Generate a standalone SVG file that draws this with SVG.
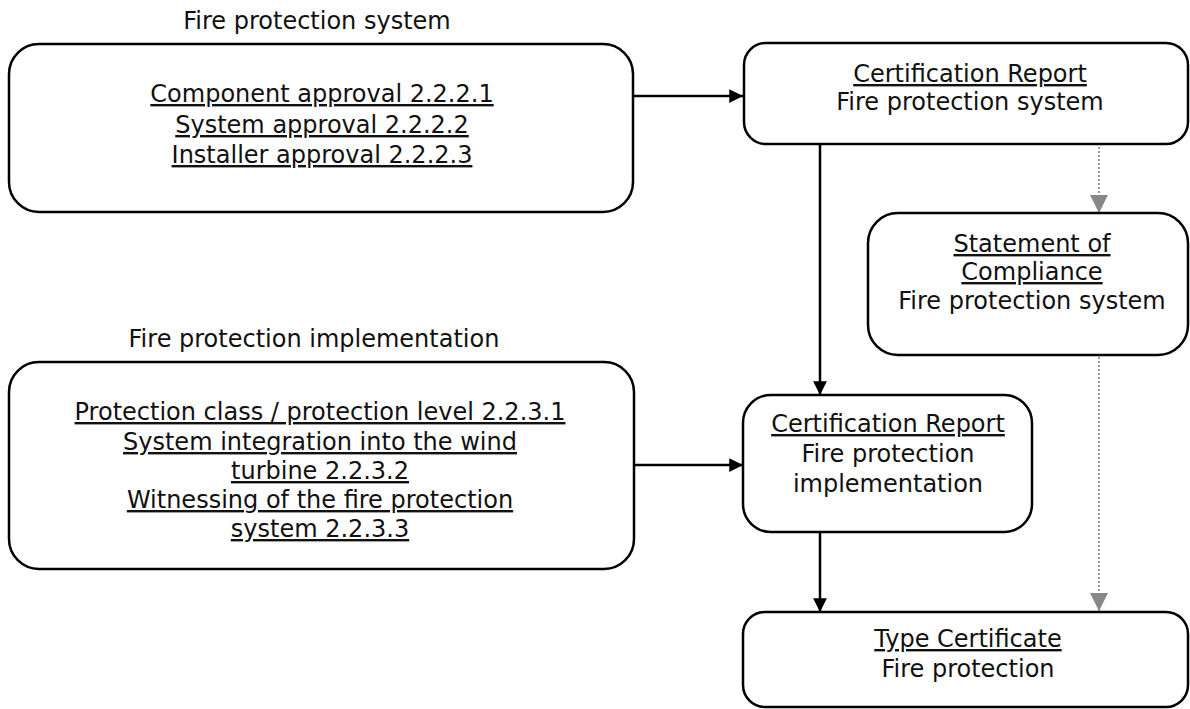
<svg xmlns="http://www.w3.org/2000/svg" width="1190" height="709" viewBox="0 0 1190 709">
<style>
.box{fill:#fff;stroke:#000;stroke-width:2.5}
text{font-family:"DejaVu Sans",Verdana,sans-serif;font-size:24px;fill:#111;text-anchor:middle}
.u{text-decoration:underline}
.c{stroke:#000;stroke-width:2.5;fill:none}
.d{stroke:#999;stroke-width:2;stroke-dasharray:2 2;fill:none}
</style>
<defs>
<marker id="a" viewBox="0 0 10 10" refX="10" refY="5" markerWidth="6" markerHeight="5.5" markerUnits="strokeWidth" orient="auto"><path d="M0,0L10,5L0,10z" fill="#000"/></marker>
<marker id="g" viewBox="0 0 10 10" refX="10" refY="5" markerWidth="12" markerHeight="9" markerUnits="strokeWidth" orient="auto"><path d="M0,0L10,5L0,10z" fill="#888"/></marker>
</defs>
<rect width="1190" height="709" fill="#fff"/>
<g id="connectors">
<path class="c" d="M633,96H743" marker-end="url(#a)"/>
<path class="c" d="M820,145V395" marker-end="url(#a)"/>
<path class="c" d="M634,465H743" marker-end="url(#a)"/>
<path class="c" d="M820,532V612" marker-end="url(#a)"/>
<path class="d" d="M1099,147V213" marker-end="url(#g)"/>
<path class="d" d="M1099,357V611" marker-end="url(#g)"/>
</g>
<g id="title1"><text x="317" y="29">Fire protection system</text></g>
<g id="n1">
<rect class="box" x="9" y="44" width="624" height="168" rx="30"/>
<text class="u" x="322" y="102">Component approval 2.2.2.1</text>
<text class="u" x="322" y="133">System approval 2.2.2.2</text>
<text class="u" x="322" y="163">Installer approval 2.2.2.3</text>
</g>
<g id="n2">
<rect class="box" x="744" y="43" width="444" height="101" rx="22"/>
<text class="u" x="970" y="82">Certification Report</text>
<text x="970" y="110">Fire protection system</text>
</g>
<g id="n3">
<rect class="box" x="868" y="213" width="320" height="142" rx="30"/>
<text class="u" x="1032" y="252">Statement of</text>
<text class="u" x="1032" y="280">Compliance</text>
<text x="1032" y="309">Fire protection system</text>
</g>
<g id="title2"><text x="314" y="347">Fire protection implementation</text></g>
<g id="n4">
<rect class="box" x="9" y="362" width="625" height="207" rx="30"/>
<text class="u" x="320" y="420">Protection class / protection level 2.2.3.1</text>
<text class="u" x="320" y="450">System integration into the wind</text>
<text class="u" x="320" y="479">turbine 2.2.3.2</text>
<text class="u" x="320" y="508">Witnessing of the fire protection</text>
<text class="u" x="320" y="537">system 2.2.3.3</text>
</g>
<g id="n5">
<rect class="box" x="743" y="395" width="289" height="137" rx="28"/>
<text class="u" x="888" y="432">Certification Report</text>
<text x="888" y="462">Fire protection</text>
<text x="888" y="492">implementation</text>
</g>
<g id="n6">
<rect class="box" x="743" y="612" width="445" height="95" rx="22"/>
<text class="u" x="968" y="647">Type Certificate</text>
<text x="968" y="677">Fire protection</text>
</g>
</svg>
